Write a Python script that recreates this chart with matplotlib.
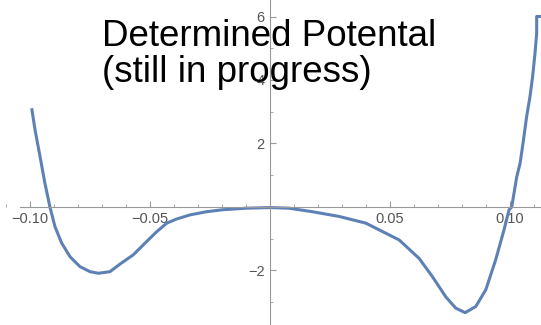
import matplotlib

matplotlib.use("Agg")
import matplotlib.pyplot as plt
from matplotlib.ticker import MultipleLocator, FixedLocator

LINE_COLOR = "#5e81b5"
TICK_COLOR = "#555555"
AXIS_COLOR = "#999999"

# potential curve
x_pts = [-0.0993, -0.0979, -0.0958, -0.0938, -0.0917, -0.0896, -0.0868, -0.0833,
         -0.0792, -0.0750, -0.0715, -0.0667, -0.0625, -0.0570, -0.0514, -0.0472,
         -0.0430, -0.0389, -0.0333, -0.0264, -0.0199, -0.0101, 0.0000, 0.0079,
         0.0176, 0.0288, 0.0399, 0.0454, 0.0538, 0.0621, 0.0676, 0.0732,
         0.0774, 0.0813, 0.0857, 0.0899, 0.0940, 0.0975, 0.0996, 0.1007,
         0.1028, 0.1042, 0.1056, 0.1069, 0.1083, 0.1094, 0.1104, 0.1111,
         0.1111, 0.1129]
y_pts = [3.11, 2.43, 1.58, 0.75, 0.00, -0.62, -1.14, -1.57,
         -1.88, -2.04, -2.09, -2.04, -1.80, -1.51, -1.09, -0.78,
         -0.51, -0.38, -0.25, -0.15, -0.09, -0.04, -0.02, -0.04,
         -0.15, -0.30, -0.51, -0.72, -1.04, -1.62, -2.19, -2.83,
         -3.19, -3.33, -3.14, -2.61, -1.67, -0.72, -0.09, 0.00,
         0.95, 1.38, 2.11, 2.84, 3.47, 4.10, 4.84, 5.47,
         6.00, 6.00]

x_major = [-0.10, -0.05, 0.05, 0.10]
x_labels = ["-0.10", "-0.05", "0.05", "0.10"]
y_major = [-2, 2, 4, 6]
y_minor = [-3, -1, 1, 3, 5]

plt.rcParams["font.family"] = ["Liberation Sans", "DejaVu Sans"]

fig = plt.figure(figsize=(5.41, 3.25), dpi=100)
ax = fig.add_axes([0, 0, 1, 1])
ax.set_xlim(-0.1125, 0.1129)
ax.set_ylim(-3.72, 6.52)

ax.plot(x_pts, y_pts, color=LINE_COLOR, lw=2.2, solid_joinstyle="round",
        solid_capstyle="butt")

for side in ["top", "right"]:
    ax.spines[side].set_visible(False)
ax.spines["left"].set_position(("data", 0))
ax.spines["bottom"].set_position(("data", 0))
ax.spines["bottom"].set_bounds(-0.1042, 0.1129)
for side in ["left", "bottom"]:
    ax.spines[side].set_color(AXIS_COLOR)
    ax.spines[side].set_linewidth(0.8)

ax.xaxis.set_major_locator(FixedLocator(x_major))
ax.set_xticklabels([s.replace("-", "\u2212") for s in x_labels])
ax.xaxis.set_minor_locator(MultipleLocator(0.01))
ax.yaxis.set_major_locator(FixedLocator(y_major))
ax.yaxis.set_minor_locator(FixedLocator(y_minor))

ax.tick_params(axis="both", which="both", direction="in", color=AXIS_COLOR,
               labelcolor=TICK_COLOR, labelsize=10.5)
ax.tick_params(axis="both", which="major", length=4, width=0.8)
ax.tick_params(axis="both", which="minor", length=2, width=0.6)
ax.tick_params(axis="x", pad=4)
ax.tick_params(axis="y", pad=4)

fig.text(102 / 541, 1 - 19 / 325, "Determined Potental\n(still in progress)",
         fontsize=26.5, color="black", ha="left", va="top", linespacing=1.05)

fig.savefig("out.png", dpi=100)
